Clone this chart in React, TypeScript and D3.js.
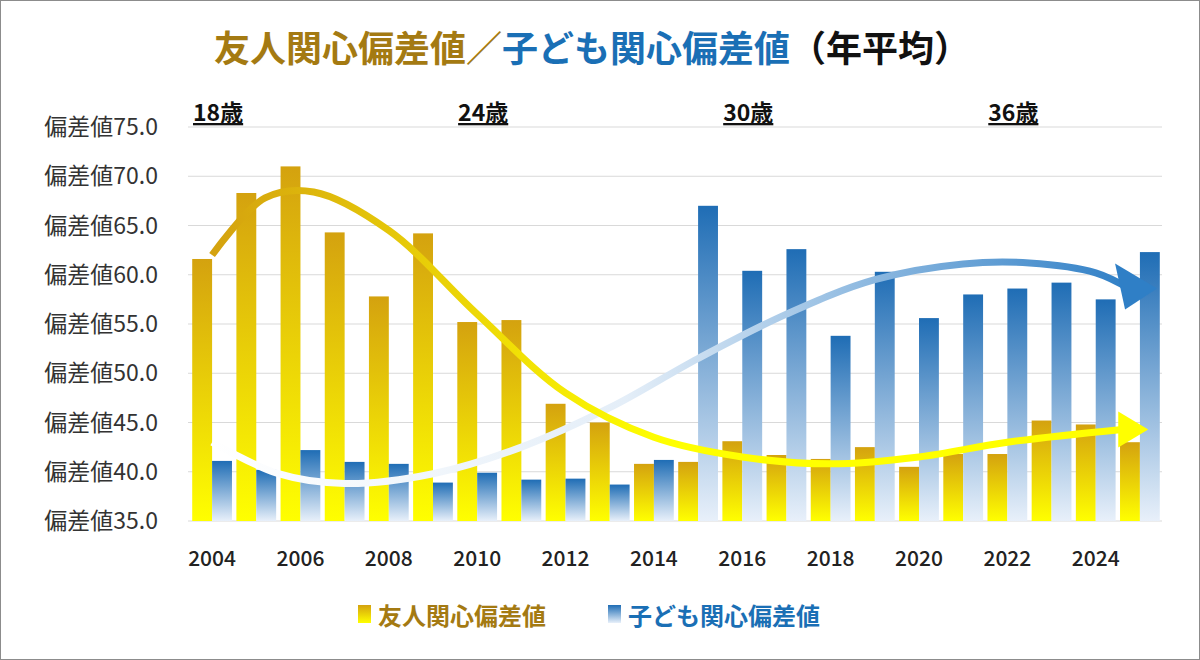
import { useEffect } from "react";
import * as d3 from "d3";

const width = 1200;
const height = 660;
const margin = { top: 127, right: 38, bottom: 139, left: 190 };

const years = d3.range(2004, 2026).map(String);
const friend = [61.6, 68.3, 71.0, 64.3, 57.8, 64.2, 55.2, 55.4, 46.9, 45.0, 40.8, 41.0, 43.1, 41.7, 41.3, 42.5, 40.5, 41.8, 41.8, 45.2, 44.8, 43.0];
const child = [41.1, 40.2, 42.2, 41.0, 40.8, 38.9, 39.9, 39.2, 39.3, 38.7, 41.2, 67.0, 60.4, 62.6, 53.8, 60.3, 55.6, 58.0, 58.6, 59.2, 57.5, 62.3];
const yTicks = [35, 40, 45, 50, 55, 60, 65, 70, 75];
const ageLabels = [{ year: "2004", text: "18歳" }, { year: "2010", text: "24歳" }, { year: "2016", text: "30歳" }, { year: "2022", text: "36歳" }];
// decorative trend arrows (year, value)
const friendTrend: [number, number][] = [[2004, 62], [2005.2, 67.8], [2006.3, 68.4], [2008, 64.5], [2010, 56], [2012, 48], [2014, 43.5], [2016, 41.5], [2018, 40.8], [2020, 41.5], [2022, 43], [2024.6, 44.3]];
const childTrend: [number, number][] = [[2004, 43], [2005.5, 39.8], [2007, 38.8], [2009, 39.8], [2011, 42.5], [2013, 46.5], [2015, 51.5], [2017, 56], [2019, 59.5], [2021, 61.1], [2022.5, 61.2], [2024, 60.2], [2024.8, 58.5]];

const font = "'Noto Sans CJK JP', 'Noto Sans', sans-serif";

export default function App() {
  useEffect(() => { document.body.style.margin = "0"; }, []);

  const x = d3.scaleBand().domain(years).range([margin.left, width - margin.right]).paddingInner(0.1).paddingOuter(0.05);
  const bw = x.bandwidth() / 2;
  const y = d3.scaleLinear().domain([35, 75]).range([height - margin.bottom, margin.top]);
  const yearX = (t: number) => (x(String(Math.floor(t)))! + (t - Math.floor(t)) * x.step()) + x.bandwidth() / 2;
  const line = d3.line<[number, number]>().x(d => yearX(d[0])).y(d => y(d[1])).curve(d3.curveCatmullRom);

  const fEnd = friendTrend[friendTrend.length - 1];
  const cEnd = childTrend[childTrend.length - 1];

  return (
    <svg width={width} height={height} style={{ display: "block", fontFamily: font }}>
      <defs>
        <linearGradient id="gY" x1="0" y1="0" x2="0" y2="1">
          <stop offset="0" stopColor="#d4a20f" />
          <stop offset="1" stopColor="#ffff00" />
        </linearGradient>
        <linearGradient id="gB" x1="0" y1="0" x2="0" y2="1">
          <stop offset="0" stopColor="#1f6db5" />
          <stop offset="1" stopColor="#e8f0fa" />
        </linearGradient>
        <linearGradient id="aY" x1="0" y1="0" x2="1" y2="0">
          <stop offset="0" stopColor="#d4a20f" />
          <stop offset="0.5" stopColor="#ffff00" />
          <stop offset="1" stopColor="#ffff00" />
        </linearGradient>
        <linearGradient id="aB" x1="0" y1="0" x2="1" y2="0">
          <stop offset="0" stopColor="#ffffff" />
          <stop offset="0.45" stopColor="#e4eef8" />
          <stop offset="1" stopColor="#2f7fc6" />
        </linearGradient>
      </defs>
      <rect x={0.5} y={0.5} width={width - 1} height={height - 1} fill="#fff" stroke="#8c8c8c" />
      <text x={592} y={62} textAnchor="middle" fontSize={36} fontWeight="bold">
        <tspan fill="#a47a12">友人関心偏差値</tspan>
        <tspan fill="#a47a12">／</tspan>
        <tspan fill="#1a6fb5">子ども関心偏差値</tspan>
        <tspan fill="#111">（年平均）</tspan>
      </text>
      {yTicks.map(t => (
        <g key={t}>
          <line x1={margin.left - 2} x2={width - margin.right} y1={y(t)} y2={y(t)} stroke="#d9d9d9" />
          <text x={158} y={y(t) + 8} textAnchor="end" fontSize={23} fill="#333">偏差値{t.toFixed(1)}</text>
        </g>
      ))}
      {years.map((yr, i) => (
        <g key={yr}>
          <rect x={x(yr)!} y={y(friend[i])} width={bw} height={y(35) - y(friend[i])} fill="url(#gY)" />
          <rect x={x(yr)! + bw} y={y(child[i])} width={bw} height={y(35) - y(child[i])} fill="url(#gB)" />
          {i % 2 === 0 && (
            <text x={x(yr)! + x.bandwidth() / 2} y={566} textAnchor="middle" fontSize={21} fontWeight={500} fill="#222">{yr}</text>
          )}
        </g>
      ))}
      <path d={line(childTrend)!} fill="none" stroke="url(#aB)" strokeWidth={7} />
      <polygon
        points={`${yearX(cEnd[0]) + 26},${y(cEnd[1]) - 1} ${yearX(cEnd[0]) - 16},${y(cEnd[1]) - 26} ${yearX(cEnd[0]) - 6},${y(cEnd[1]) + 20}`}
        fill="#2f7fc6" />
      <path d={line(friendTrend)!} fill="none" stroke="url(#aY)" strokeWidth={7} />
      <polygon
        points={`${yearX(fEnd[0]) + 26},${y(fEnd[1])} ${yearX(fEnd[0]) - 4},${y(fEnd[1]) - 18} ${yearX(fEnd[0]) - 4},${y(fEnd[1]) + 18}`}
        fill="#ffff00" />
      {ageLabels.map(a => (
        <text key={a.text} x={x(a.year)! + x.bandwidth() / 2 + 6} y={121} textAnchor="middle" fontSize={23} fontWeight="bold"
          textDecoration="underline" fill="#111">{a.text}</text>
      ))}
      <rect x={358} y={605} width={13} height={18} fill="url(#gY)" />
      <text x={378} y={625} fontSize={24} fontWeight="bold" fill="#a47a12">友人関心偏差値</text>
      <rect x={608} y={605} width={13} height={18} fill="url(#gB)" />
      <text x={628} y={625} fontSize={24} fontWeight="bold" fill="#1a6fb5">子ども関心偏差値</text>
    </svg>
  );
}
